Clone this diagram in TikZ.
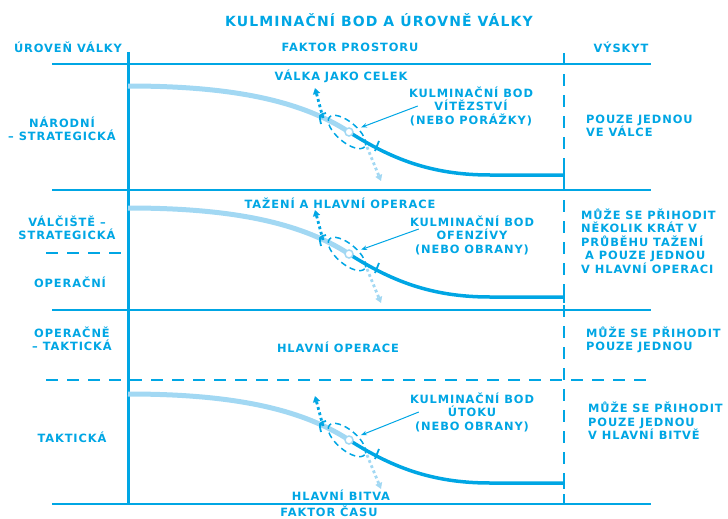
\documentclass[tikz,border=0pt]{standalone}
\usepackage{fontspec}
\newfontfamily\armyfont[LetterSpace=8]{DejaVu Sans Bold}
\usepackage{xcolor}
\usepackage{tikz}
\usetikzlibrary{arrows.meta}

\definecolor{armyblue}{RGB}{0,166,228}
\definecolor{paleblue}{RGB}{162,216,243}

\begin{document}
\begin{tikzpicture}[x=1pt, y=-1pt,
        every node/.style={text=armyblue, inner sep=0pt, font=\armyfont\fontsize{11.4}{13.5}\selectfont},
        frame/.style={armyblue, line width=2.5pt},
        gridline/.style={armyblue, line width=2pt, dash pattern=on 12pt off 9pt},
        before/.style={paleblue, line width=5pt},
        after/.style={armyblue, line width=3.5pt},
        climb/.style={armyblue, line width=2.8pt, dash pattern=on 2.8pt off 2.8pt, -{Triangle[width=7pt, length=6pt]}},
        decline/.style={climb, paleblue},
        ring/.style={armyblue, line width=1.5pt, dash pattern=on 6pt off 4pt},
        bod/.style={circle, draw=paleblue, fill=white, line width=1.5pt, minimum size=8pt},
        notch/.style={armyblue, line width=1.8pt},
        pointer/.style={armyblue, line width=1pt, -{Stealth[length=6pt]}, shorten >=8pt}]
        \useasboundingbox (0,0) rectangle (728,519);

        \node at (379, 20) (title) {\fontsize{14}{16}\selectfont KULMINAČNÍ BOD A ÚROVNĚ VÁLKY};
        \node at (68, 47) (hlevel) {ÚROVEŇ VÁLKY};
        \node at (350, 47) (hspace) {FAKTOR PROSTORU};
        \node at (621, 47) (hoccur) {VÝSKYT};

        \draw[frame] (52, 64) -- (651, 64);
        \draw[frame] (52, 190) -- (651, 190);
        \draw[frame] (52, 310) -- (651, 310);
        \draw[frame] (52, 504) -- (651, 504);
        \draw[frame, line width=3pt] (128, 52) -- (128, 504);
        \draw[gridline] (46, 253) -- (127, 253);
        \draw[gridline] (46, 380) -- (651, 380);
        \draw[gridline] (564, 53) -- (564, 504);

        \node[align=center] at (62, 129) (l1) {NÁRODNÍ\\– STRATEGICKÁ};
        \node[align=center] at (67, 228) (l2) {VÁLČIŠTĚ –\\STRATEGICKÁ};
        \node[align=center] at (70, 282) (l3) {OPERAČNÍ};
        \node[align=center] at (72, 339) (l4) {OPERAČNĚ\\– TAKTICKÁ};
        \node[align=center] at (72, 437) (l5) {TAKTICKÁ};

        \node at (341, 76) (warA) {VÁLKA JAKO CELEK};
        \node at (340, 203) (warB) {TAŽENÍ A HLAVNÍ OPERACE};
        \node at (338, 347) (warC) {HLAVNÍ OPERACE};
        \node at (341, 495) (warD) {HLAVNÍ BITVA};
        \node at (329, 511) (htime) {FAKTOR ČASU};

        \node[align=center] at (471, 106) (kulmA) {KULMINAČNÍ BOD\\VÍTĚZSTVÍ\\(NEBO PORÁŽKY)};
        \node[align=center] at (472, 235) (kulmB) {KULMINAČNÍ BOD\\OFENZÍVY\\(NEBO OBRANY)};
        \node[align=center] at (472, 412) (kulmC) {KULMINAČNÍ BOD\\ÚTOKU\\(NEBO OBRANY)};

        \node[align=left, anchor=west] at (586, 126) (r1) {POUZE JEDNOU\\VE VÁLCE};
        \node[align=left, anchor=west] at (581, 241) (r2) {MŮŽE SE PŘIHODIT\\NĚKOLIK KRÁT V\\PRŮBĚHU TAŽENÍ\\\hspace*{4pt}A POUZE JEDNOU\\V HLAVNÍ OPERACI};
        \node[align=left, anchor=west] at (586, 340) (r3) {MŮŽE SE PŘIHODIT\\POUZE JEDNOU};
        \node[align=left, anchor=west] at (588, 421) (r4) {MŮŽE SE PŘIHODIT\\POUZE JEDNOU\\V HLAVNÍ BITVĚ};

        \begin{scope}
            \draw[before] (128, 86) .. controls (230, 86) and (300, 100) .. (349, 132);
            \draw[after] (349, 132) .. controls (390, 158) and (430, 175) .. (490, 175) -- (564, 175);
            \draw[notch] (564, 169) -- (564, 181);
            \coordinate (leftA) at (323, 118);
            \coordinate (rightA) at (367, 147);
            \coordinate (upA) at (315, 88);
            \coordinate (downA) at (381, 181);
            \draw[climb] (leftA) -- (upA);
            \draw[decline] (rightA) -- (downA);
            \draw[notch] (326, 113) .. controls (319, 115) .. (321, 124);
            \draw[notch] (379, 141) -- (375, 151);
            \draw[ring, rotate around={-40:(347, 132)}] (347, 132) ellipse [x radius=23, y radius=10];
            \node[bod] at (349, 132) (bodA) {};
        \end{scope}

        \begin{scope}[shift={(0, 122)}]
            \draw[before] (128, 86) .. controls (230, 86) and (300, 100) .. (349, 132);
            \draw[after] (349, 132) .. controls (390, 158) and (430, 175) .. (490, 175) -- (564, 175);
            \draw[notch] (564, 169) -- (564, 181);
            \coordinate (leftB) at (323, 118);
            \coordinate (rightB) at (367, 147);
            \coordinate (upB) at (315, 88);
            \coordinate (downB) at (381, 181);
            \draw[climb] (leftB) -- (upB);
            \draw[decline] (rightB) -- (downB);
            \draw[notch] (326, 113) .. controls (319, 115) .. (321, 124);
            \draw[notch] (379, 141) -- (375, 151);
            \draw[ring, rotate around={-40:(347, 132)}] (347, 132) ellipse [x radius=23, y radius=10];
            \node[bod] at (349, 132) (bodB) {};
        \end{scope}

        \begin{scope}[shift={(0, 308)}]
            \draw[before] (128, 86) .. controls (230, 86) and (300, 100) .. (349, 132);
            \draw[after] (349, 132) .. controls (390, 158) and (430, 175) .. (490, 175) -- (564, 175);
            \draw[notch] (564, 169) -- (564, 181);
            \coordinate (leftC) at (323, 118);
            \coordinate (rightC) at (367, 147);
            \coordinate (upC) at (315, 88);
            \coordinate (downC) at (381, 181);
            \draw[climb] (leftC) -- (upC);
            \draw[decline] (rightC) -- (downC);
            \draw[notch] (326, 113) .. controls (319, 115) .. (321, 124);
            \draw[notch] (379, 141) -- (375, 151);
            \draw[ring, rotate around={-40:(347, 132)}] (347, 132) ellipse [x radius=23, y radius=10];
            \node[bod] at (349, 132) (bodC) {};
        \end{scope}

        \draw[pointer] ([xshift=9pt]kulmA.west) -- (bodA);
        \draw[pointer] ([xshift=9pt, yshift=6pt]kulmB.west) -- (bodB);
        \draw[pointer] ([xshift=9pt]kulmC.west) -- (bodC);
    \end{tikzpicture}
\end{document}
